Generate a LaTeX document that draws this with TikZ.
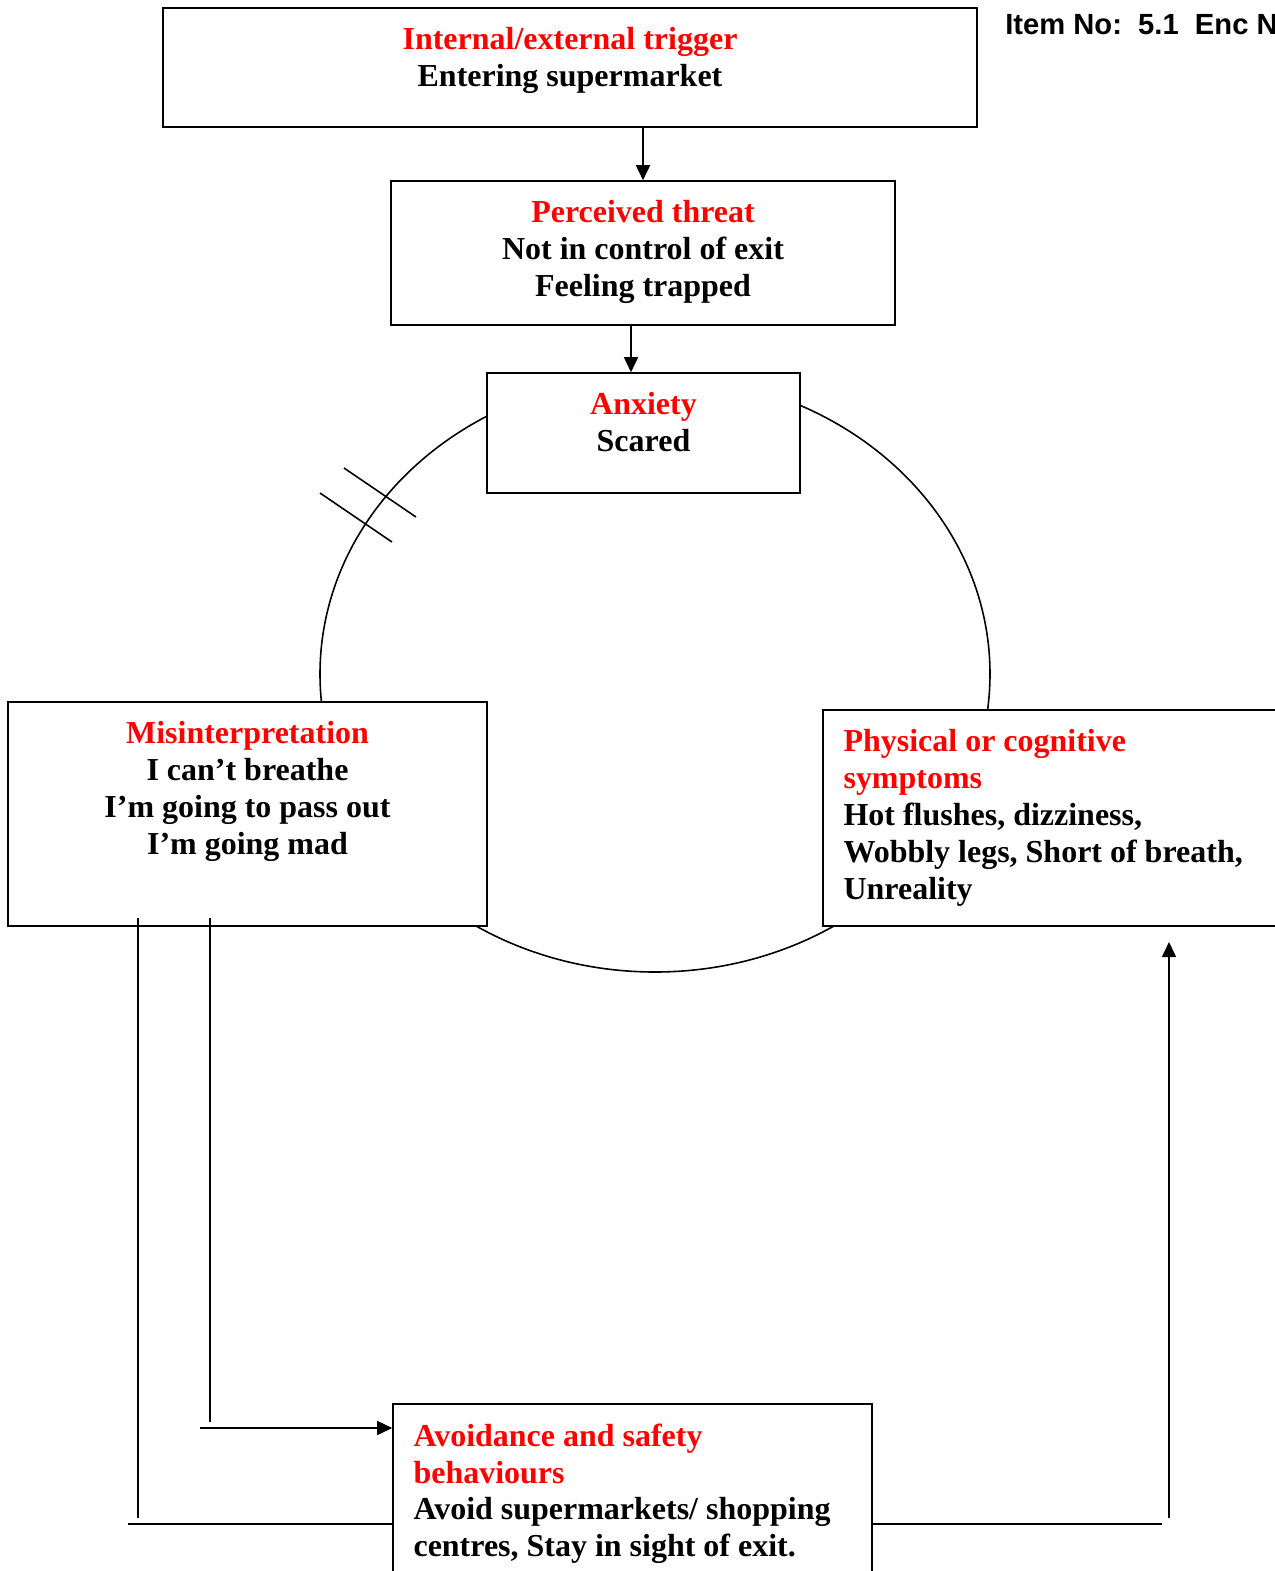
\documentclass[tikz,border=0pt]{standalone}
\usepackage{fontspec}
\setmainfont{Liberation Serif}
\newfontfamily\itemfont{Liberation Sans}
\usepackage{tikz}
\usetikzlibrary{arrows.meta, positioning}
\usepackage{xcolor}

\begin{document}
\begin{tikzpicture}[
    box/.style={rectangle, draw=black, fill=white, line width=0.9pt},
    txt/.style={inner sep=0pt, font=\bfseries\fontsize{18.2}{21}\selectfont},
    ctxt/.style={txt, align=center},
    ltxt/.style={txt, align=left},
    line/.style={line width=0.9pt},
    arrow/.style={line width=0.9pt,-{Triangle[length=0.3cm,width=0.28cm]}}]
\useasboundingbox (0,0) rectangle (25.5,-31.42);
% vicious circle behind the boxes
\draw [line] (13.1,-13.48) ellipse [x radius=6.7cm, y radius=5.96cm];
\draw [line] (6.4,-9.86) -- (7.84,-10.84);
\draw [line] (6.88,-9.36) -- (8.32,-10.34);
% boxes
\node (trig) [box, minimum width=16.28cm, minimum height=2.38cm] at (11.4,-1.35) {};
\node (threat) [box, minimum width=10.08cm, minimum height=2.88cm] at (12.86,-5.06) {};
\node (anx) [box, minimum width=6.26cm, minimum height=2.4cm] at (12.87,-8.66) {};
\node (mis) [box, minimum width=9.58cm, minimum height=4.48cm] at (4.95,-16.28) {};
\node (phys) [box, minimum width=9.24cm, minimum height=4.32cm] at (21.08,-16.36) {};
\node (avoid) [box, minimum width=9.58cm, minimum height=3.62cm] at (12.65,-29.89) {};
% texts
\node (trigtxt) [ctxt, below=0.4cm of trig.north] {\textcolor{red}{Internal/external trigger}\\Entering supermarket};
\node (threattxt) [ctxt, below=0.4cm of threat.north] {\textcolor{red}{Perceived threat}\\Not in control of exit\\Feeling trapped};
\node (anxtxt) [ctxt, below=0.4cm of anx.north] {\textcolor{red}{Anxiety}\\Scared};
\node (mistxt) [ctxt, below=0.4cm of mis.north] {\textcolor{red}{Misinterpretation}\\I can’t breathe\\I’m going to pass out\\I’m going mad};
\node (phystxt) [ltxt, below right=0.4cm and 0.42cm of phys.north west] {\textcolor{red}{Physical or cognitive}\\\textcolor{red}{symptoms}\\Hot flushes, dizziness,\\Wobbly legs, Short of breath,\\Unreality};
\node (avoidtxt) [ltxt, below right=0.4cm and 0.42cm of avoid.north west] {\textcolor{red}{Avoidance and safety}\\\textcolor{red}{behaviours}\\Avoid supermarkets/ shopping\\centres, Stay in sight of exit.};
\node (item) [anchor=west, inner sep=0pt, font=\itemfont\bfseries\fontsize{16.6}{19}\selectfont] at (20.1,-0.5) {Item No:\ \ 5.1\ \ Enc No};
% connectors
\coordinate (m1) at (2.76,-18.36);
\coordinate (m1b) at (2.76,-30.36);
\coordinate (m1c) at (2.56,-30.48);
\coordinate (m2) at (4.2,-18.36);
\coordinate (m2b) at (4.2,-28.44);
\coordinate (m2c) at (4.0,-28.56);
\coordinate (p1) at (23.24,-30.48);
\coordinate (p2) at (23.38,-30.36);
\coordinate (p3) at (23.38,-18.84);
\draw [arrow] (trig.south -| threat.north) -- (threat.north);
\draw [arrow] ([xshift=-0.24cm]threat.south) -- ([xshift=-0.24cm]threat.south |- anx.north);
\draw [line] (m1) -- (m1b);
\draw [line] (m1c) -- (m1c -| avoid.west);
\draw [line] (m2) -- (m2b);
\draw [arrow] (m2c) -- (m2c -| avoid.west);
\draw [line] (p1 -| avoid.east) -- (p1);
\draw [arrow] (p2) -- (p3);
\end{tikzpicture}
\end{document}
